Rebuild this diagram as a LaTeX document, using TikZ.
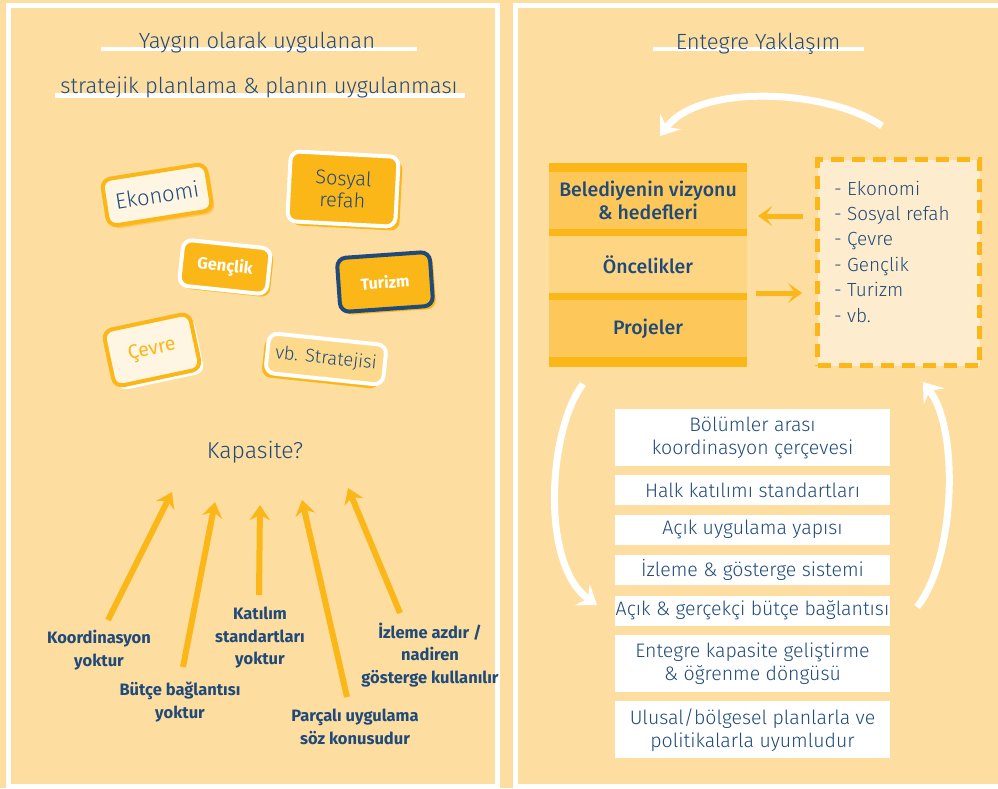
\documentclass[tikz,border=0pt]{standalone}
\usepackage{fontspec}
\setmainfont{Fira Sans}
\newfontfamily\lightfont{Fira Sans Light}
\newfontfamily\medfont{Fira Sans Medium}
\definecolor{peach}{RGB}{253,221,160}
\definecolor{accentyel}{RGB}{251,183,24}
\definecolor{inkblue}{RGB}{31,74,122}
\definecolor{cream}{RGB}{254,245,227}
\definecolor{paleyel}{RGB}{254,236,206}
\definecolor{bandyel}{RGB}{253,199,90}
\definecolor{bandlight}{RGB}{253,213,131}
\definecolor{cardlight}{RGB}{253,217,140}
\usetikzlibrary{arrows.meta, positioning, calc, shadows}

\begin{document}
\begin{tikzpicture}[x=1pt, y=-1pt,
  every node/.style={text=inkblue, inner sep=0pt},
  panel/.style={draw=white, line width=5pt},
  uline/.style={draw=white, line width=4.5pt},
  title/.style={font=\lightfont\fontsize{22}{26}\selectfont, anchor=base},
  card/.style={rounded corners=9pt, line width=4pt, align=center},
  capa/.style={draw=accentyel, line width=6pt, -{Stealth[length=15pt, width=20pt, inset=5pt]}},
  lack/.style={font=\bfseries\fontsize{16.5}{22.5}\selectfont, align=center},
  band/.style={minimum width=198pt, minimum height=57pt, font=\medfont\fontsize{19.5}{23}\selectfont, align=center},
  flow/.style={draw=accentyel, line width=5pt, -{Stealth[length=14pt, width=20pt, inset=7pt]}},
  loopback/.style={draw=white, line width=7pt, -{Stealth[length=18pt, width=26pt, inset=7pt]}},
  dashbox/.style={draw=accentyel, fill=paleyel, line width=5pt, dash pattern=on 13pt off 8pt, minimum width=162pt, minimum height=206pt},
  item/.style={anchor=base west, font=\lightfont\fontsize{19}{22}\selectfont},
  tool/.style={fill=white, minimum width=275pt, align=center, font=\lightfont\fontsize{19.5}{23}\selectfont}
]
  \useasboundingbox (0,0) rectangle (998,788);
  \fill[peach] (0,0) rectangle (998,788);
  \draw[panel] (8.5,5) rectangle (497.5,786.5);
  \draw[panel] (515.5,5) rectangle (1003,786.5);

  % left: usual planning
  \draw[uline] (101,49) -- (417,49);
  \node[title] (tl1) at (257,48) {Yaygın olarak uygulanan};
  \draw[uline] (55,95.5) -- (465,95.5);
  \node[title] (tl2) at (259,93) {stratejik planlama \& planın uygulanması};

  % strategy cards
  \node[card, draw=accentyel, fill=cream, minimum width=105pt, minimum height=47pt, rotate=9,
        drop shadow={shadow xshift=3pt, shadow yshift=-3pt, fill=bandyel, opacity=1},
        font=\lightfont\fontsize{22}{26}\selectfont] (eko) at (157,195) {Ekonomi};
  \node[card, draw=white, fill=accentyel, minimum width=108pt, minimum height=70pt, rotate=-3,
        drop shadow={shadow xshift=4pt, shadow yshift=-4pt, fill=accentyel, opacity=1},
        font=\lightfont\fontsize{20}{22}\selectfont] (sos) at (343,189) {Sosyal\\refah};
  \node[card, draw=white, fill=accentyel, minimum width=88pt, minimum height=46pt, rotate=-6,
        drop shadow={shadow xshift=3pt, shadow yshift=-3pt, fill=accentyel, opacity=1},
        text=white, font=\bfseries\fontsize{16.5}{20}\selectfont] (genc) at (225,267) {Gençlik};
  \node[card, draw=inkblue, fill=accentyel, minimum width=93pt, minimum height=54pt, rotate=4,
        drop shadow={shadow xshift=3pt, shadow yshift=-3pt, fill=accentyel, opacity=1},
        text=white, font=\bfseries\fontsize{16}{20}\selectfont] (tur) at (385,282) {Turizm};
  \node[card, draw=accentyel, fill=cream, minimum width=88pt, minimum height=57pt, rotate=12,
        drop shadow={shadow xshift=4pt, shadow yshift=-4pt, fill=white, opacity=1},
        text=accentyel, font=\fontsize{19.5}{24}\selectfont] (cev) at (152,350) {Çevre};
  \node[card, draw=white, fill=cardlight, minimum width=118pt, minimum height=40pt, rotate=-6,
        drop shadow={shadow xshift=-4pt, shadow yshift=-4pt, fill=accentyel, opacity=1},
        font=\lightfont\fontsize{18.5}{22}\selectfont] (vbs) at (326,359) {vb. Stratejisi};

  \node[title, font=\lightfont\fontsize{23}{27}\selectfont] (kap) at (255,458) {Kapasite?};

  % missing capacities
  \node[lack] (koord) at (99,650) {Koordinasyon\\yoktur};
  \node[lack] (butce) at (180,702) {Bütçe bağlantısı\\yoktur};
  \node[lack] (katil) at (260,638) {Katılım\\standartları\\yoktur};
  \node[lack] (parca) at (355,727) {Parçalı uygulama\\söz konusudur};
  \node[lack] (izle) at (430,655) {İzleme azdır /\\nadiren\\gösterge kullanılır};

  \coordinate (koordA) at (108,620);  \coordinate (koordB) at (172,492);
  \coordinate (butceA) at (183,667);  \coordinate (butceB) at (215,502);
  \coordinate (katilA) at (259,595);  \coordinate (katilB) at (260,505);
  \coordinate (parcaA) at (347,697);  \coordinate (parcaB) at (302,500);
  \coordinate (izleA) at (400,613);   \coordinate (izleB) at (348,488);
  \foreach \n in {koord, butce, katil, parca, izle}
    \draw[capa] (\n A) -- (\n B);

  % right: integrated approach
  \draw[uline] (653,49) -- (864,49);
  \node[title] (tr) at (758,49) {Entegre Yaklaşım};

  \fill[accentyel] (549,163) rectangle (747,367);
  \node[band, fill=bandyel] (vis) at (648,200.5) {Belediyenin vizyonu\\\& hedefleri};
  \node[band, fill=bandlight] (onc) at (648,264.5) {Öncelikler};
  \node[band, fill=bandyel] (proj) at (648,328.5) {Projeler};

  \node[dashbox] (list) at (898.5,262.5) {};
  \foreach \t [count=\i] in {Ekonomi, Sosyal refah, Çevre, Gençlik, Turizm, vb.}
    \node[item] (it\i) at (834,{195+25.4*(\i-1)}) {- \t};

  \coordinate (hA) at (0,216);
  \coordinate (hB) at (0,293);
  \draw[flow, shorten <=12pt, shorten >=11pt] (list.west |- hA) -- (vis.east |- hA);
  \draw[flow, shorten <=9pt, shorten >=13pt] (onc.east |- hB) -- (list.west |- hB);

  % tools
  \node[tool, minimum height=57pt] (coord) at (752.5,437.5) {Bölümler arası\\koordinasyon çerçevesi};
  \node[tool, minimum height=30pt, below=9pt of coord] (halk) {Halk katılımı standartları};
  \node[tool, minimum height=30pt, below=9pt of halk] (acik) {Açık uygulama yapısı};
  \node[tool, minimum height=30pt, below=10pt of acik] (izg) {İzleme \& gösterge sistemi};
  \node[tool, minimum height=30pt, below=10pt of izg] (bud) {Açık \& gerçekçi bütçe bağlantısı};
  \node[tool, minimum height=57pt, below=9pt of bud] (kapd) {Entegre kapasite geliştirme\\\& öğrenme döngüsü};
  \node[tool, minimum height=57pt, below=9pt of kapd] (ulus) {Ulusal/bölgesel planlarla ve\\politikalarla uyumludur};

  % cycle
  \coordinate (topS) at (882,126);  \coordinate (topE) at (660,136);
  \coordinate (lefS) at (583,384);  \coordinate (lefE) at (597,605);
  \coordinate (rigS) at (917,607);  \coordinate (rigE) at (923,382);
  \draw[loopback] (topS) .. controls (830,90) and (700,82) .. (topE);
  \draw[loopback] (lefS) .. controls (548,430) and (540,565) .. (lefE);
  \draw[loopback] (rigS) .. controls (955,560) and (960,430) .. (rigE);
\end{tikzpicture}
\end{document}
